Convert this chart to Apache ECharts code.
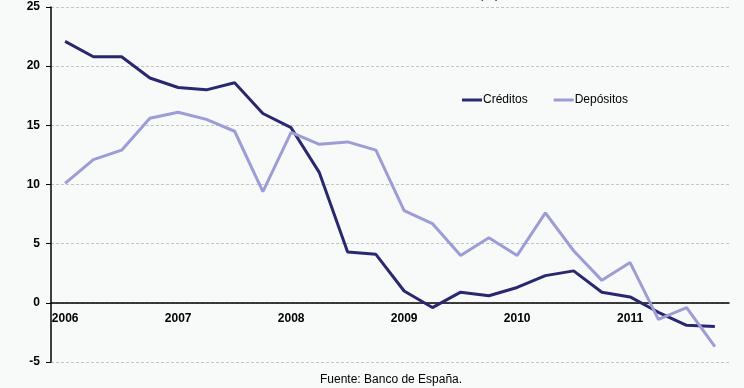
<!DOCTYPE html>
<html>
<head>
<meta charset="utf-8">
<script src="https://cdn.jsdelivr.net/npm/echarts@6/dist/echarts.min.js"></script>
<style>
  html, body { margin: 0; padding: 0; background: #f8f9f9; }
  #chart { width: 744px; height: 388px; }
</style>
</head>
<body>
<div id="chart"></div>
<script>
// Quarterly periods, 2006 to 2011
const years = ['2006', '2007', '2008', '2009', '2010', '2011'];
const quarters = ['T1', 'T2', 'T3', 'T4'];

// Year-on-year growth rates (%)
const creditos = [22.1, 20.8, 20.8, 19.0, 18.2, 18.0, 18.6, 16.0, 14.8, 11.0, 4.3, 4.1,
                  1.0, -0.4, 0.9, 0.6, 1.3, 2.3, 2.7, 0.9, 0.5, -0.8, -1.9, -2.0];
const depositos = [10.1, 12.1, 12.9, 15.6, 16.1, 15.5, 14.5, 9.4, 14.4, 13.4, 13.6, 12.9,
                   7.8, 6.7, 4.0, 5.5, 4.0, 7.6, 4.4, 1.9, 3.4, -1.4, -0.4, -3.7];

const yTicks = { min: -5, max: 25, interval: 5 };

const categories = [];
years.forEach(y => quarters.forEach(q => categories.push(y + ' ' + q)));

const FONT = 'Liberation Sans, Arial, sans-serif';
const H = 388, GRID_TOP = 7, GRID_BOTTOM = 26;

// Lift the category axis from the bottom of the plot up to the zero line
const plotH = H - GRID_TOP - GRID_BOTTOM;
const zeroOffset = plotH * (0 - yTicks.min) / (yTicks.max - yTicks.min);

const chart = echarts.init(document.getElementById('chart'), null, { renderer: 'canvas' });
chart.setOption({
  backgroundColor: '#f8f9f9',
  animation: false,
  textStyle: { fontFamily: FONT },
  grid: { left: 51, right: 15, top: GRID_TOP, bottom: GRID_BOTTOM },
  legend: {
    left: 457, top: 89,
    icon: 'rect', itemWidth: 20, itemHeight: 3, itemGap: 26,
    textStyle: { fontFamily: FONT, fontSize: 12, color: '#000', padding: [0, 0, 0, -4] },
    data: ['Créditos', 'Depósitos']
  },
  graphic: [
    { type: 'text', left: 479, top: -12,
      style: { text: '(%)', font: '13px ' + FONT, fill: '#000' } },
    { type: 'text', left: 320, top: 374,
      style: { text: 'Fuente: Banco de España.', font: '12px ' + FONT, fill: '#000' } }
  ],
  xAxis: {
    type: 'category',
    data: categories,
    boundaryGap: true,
    offset: -zeroOffset,
    axisLine: { onZero: false, lineStyle: { color: '#000', width: 1.5 } },
    axisTick: { show: false },
    axisLabel: {
      interval: 0, margin: 10, fontSize: 12, fontWeight: 'bold', color: '#000',
      formatter: v => v.endsWith('T1') ? v.split(' ')[0] : ''
    },
    splitLine: { show: false }
  },
  yAxis: {
    type: 'value',
    min: yTicks.min, max: yTicks.max, interval: yTicks.interval,
    axisLine: { show: true, lineStyle: { color: '#000', width: 1.5 } },
    axisTick: { show: true, length: 5, lineStyle: { color: '#000' } },
    axisLabel: { fontSize: 12, fontWeight: 'bold', color: '#000', margin: 11 },
    splitLine: { show: true, lineStyle: { color: '#c4c4c4', width: 1, type: [3, 2] } }
  },
  series: [
    {
      name: 'Créditos', type: 'line', data: creditos,
      symbol: 'none', color: '#29286f',
      lineStyle: { width: 3, color: '#29286f' }
    },
    {
      name: 'Depósitos', type: 'line', data: depositos,
      symbol: 'none', color: '#9d9dd6',
      lineStyle: { width: 3, color: '#9d9dd6' }
    }
  ]
});
</script>
</body>
</html>
